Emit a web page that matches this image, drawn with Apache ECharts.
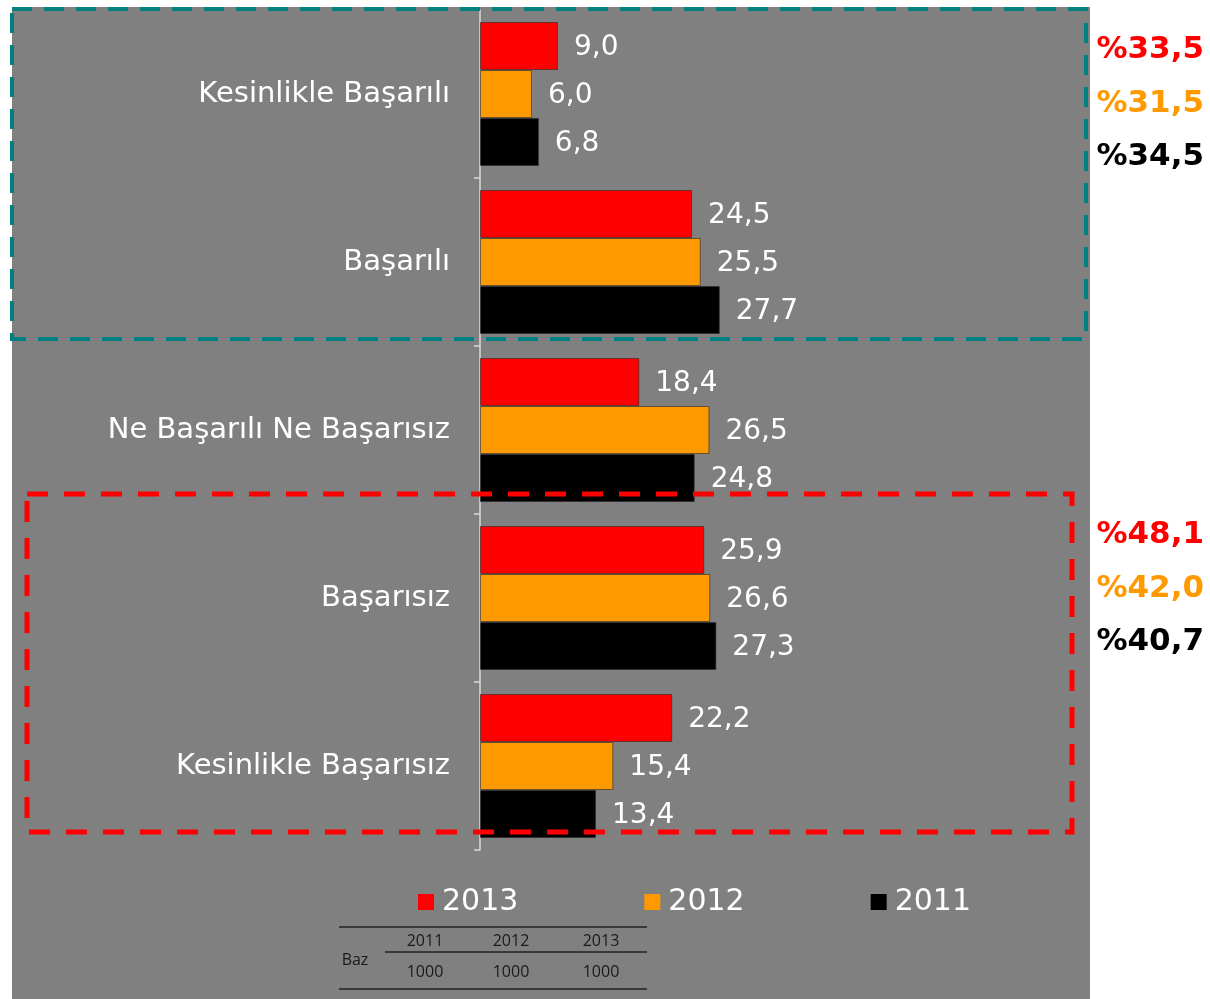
<!DOCTYPE html>
<html>
<head>
<meta charset="utf-8">
<script src="https://cdn.jsdelivr.net/npm/echarts@6/dist/echarts.min.js"></script>
<style>
  html, body { margin: 0; padding: 0; background: #fff; }
  #chart { width: 1210px; height: 999px; }
</style>
</head>
<body>
<div id="chart"></div>
<script>
// data
const categories = ['Kesinlikle Başarılı', 'Başarılı', 'Ne Başarılı Ne Başarısız', 'Başarısız', 'Kesinlikle Başarısız'];
const seriesNames = ['2013', '2012', '2011'];
const values2013 = [9.0, 24.5, 18.4, 25.9, 22.2];
const values2012 = [6.0, 25.5, 26.5, 26.6, 15.4];
const values2011 = [6.8, 27.7, 24.8, 27.3, 13.4];
const positiveTotals = ['%33,5', '%31,5', '%34,5'];   // 2013, 2012, 2011
const negativeTotals = ['%48,1', '%42,0', '%40,7'];
const bazYears = ['2011', '2012', '2013'];
const bazValues = ['1000', '1000', '1000'];

const colors = ['#ff0000', '#ff9900', '#000000'];
const FONT = '"DejaVu Sans", Verdana, sans-serif';

const fmt = v => v.toFixed(1).replace('.', ',');

const chart = echarts.init(document.getElementById('chart'));

const makeSeries = (name, data, i) => ({
    name: name,
    type: 'bar',
    data: data,
    barWidth: 48,
    barGap: '0%',
    itemStyle: { color: colors[i], borderColor: 'rgba(40,40,40,0.6)', borderWidth: 1 },
    label: {
        show: true,
        position: 'right',
        distance: 16,
        color: '#fff',
        fontSize: 28,
        fontFamily: FONT,
        offset: [0, 2],
        formatter: p => fmt(p.value)
    }
});

// percentage totals on the right
const totalTexts = [];
[[positiveTotals, [48, 102, 155]], [negativeTotals, [533, 587, 640]]].forEach(([arr, ys]) => {
    arr.forEach((t, i) => {
        totalTexts.push({
            type: 'text', right: 6, top: ys[i] - 14,
            style: { text: t, fill: colors[i], fontSize: 31, fontWeight: 'bold', fontFamily: FONT }
        });
    });
});

// baz table
const tableFont = '"Open Sans", "Noto Sans", sans-serif';
const tableItems = [
    { type: 'line', shape: { x1: 339, y1: 927, x2: 647, y2: 927 }, style: { stroke: '#222', lineWidth: 1.5 } },
    { type: 'line', shape: { x1: 385, y1: 952, x2: 647, y2: 952 }, style: { stroke: '#222', lineWidth: 1.5 } },
    { type: 'line', shape: { x1: 339, y1: 989, x2: 647, y2: 989 }, style: { stroke: '#222', lineWidth: 1.5 } },
    { type: 'text', x: 355, y: 960, style: { text: 'Baz', fill: '#1a1a1a', fontSize: 16, fontFamily: tableFont, align: 'center', verticalAlign: 'middle' } }
];
const colX = [425, 511, 601];
bazYears.forEach((y, i) => {
    tableItems.push({ type: 'text', x: colX[i], y: 941, style: { text: y, fill: '#1a1a1a', fontSize: 16, fontFamily: tableFont, align: 'center', verticalAlign: 'middle' } });
    tableItems.push({ type: 'text', x: colX[i], y: 972, style: { text: bazValues[i], fill: '#1a1a1a', fontSize: 16, fontFamily: tableFont, align: 'center', verticalAlign: 'middle' } });
});

const option = {
    backgroundColor: '#808080',
    animation: false,
    textStyle: { fontFamily: FONT },
    legend: {
        data: seriesNames,
        left: 413,
        top: 882,
        icon: 'rect',
        itemWidth: 16,
        itemHeight: 16,
        itemGap: 126,
        itemStyle: { borderWidth: 0 },
        textStyle: { color: '#fff', fontSize: 30, fontFamily: FONT, padding: [0, 0, 0, 3] }
    },
    grid: { left: 480, top: 10, width: 606, height: 840 },
    xAxis: {
        type: 'value',
        min: 0,
        max: 70,
        show: false
    },
    yAxis: {
        type: 'category',
        data: categories,
        inverse: true,
        axisLine: { lineStyle: { color: '#d9d9d9', width: 1.5 } },
        axisTick: { show: true, length: 6, lineStyle: { color: '#d9d9d9', width: 1.5 } },
        axisLabel: { color: '#fff', fontSize: 29, fontFamily: FONT, margin: 30 }
    },
    series: [
        makeSeries(seriesNames[0], values2013, 0),
        makeSeries(seriesNames[1], values2012, 1),
        makeSeries(seriesNames[2], values2011, 2)
    ],
    graphic: [
        // white margins outside the grey panel
        { type: 'rect', shape: { x: 1090, y: 0, width: 120, height: 999 }, style: { fill: '#fff' }, z: 0 },
        { type: 'rect', shape: { x: 0, y: 0, width: 12, height: 999 }, style: { fill: '#fff' }, z: 0 },
        { type: 'rect', shape: { x: 0, y: 0, width: 1210, height: 7 }, style: { fill: '#fff' }, z: 0 },
        // dashed highlight boxes
        { type: 'rect', z: 100, shape: { x: 12, y: 9, width: 1074, height: 330 },
          style: { fill: 'none', stroke: '#008080', lineWidth: 4, lineDash: [20, 12] } },
        { type: 'rect', z: 100, shape: { x: 27, y: 494, width: 1045, height: 338 },
          style: { fill: 'none', stroke: '#ff0000', lineWidth: 5, lineDash: [21, 16] } },
        ...totalTexts,
        ...tableItems
    ]
};

chart.setOption(option);
</script>
</body>
</html>
